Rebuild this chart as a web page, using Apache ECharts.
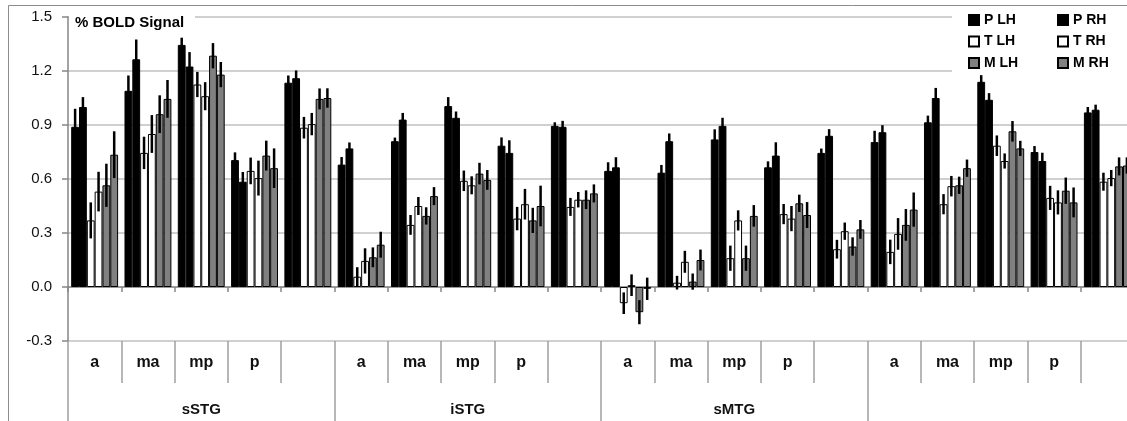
<!DOCTYPE html>
<html><head><meta charset="utf-8">
<script src="https://cdn.jsdelivr.net/npm/echarts@6/dist/echarts.min.js"></script>
<style>html,body{margin:0;padding:0;background:#fff;overflow:hidden}#c{width:1134px;height:421px}</style>
</head><body><div id="c"></div>
<script>
// ---- data ----
const groups = ['sSTG', 'iSTG', 'sMTG', ''];
const subs = ['a', 'ma', 'mp', 'p', ''];
const seriesNames = ['P LH', 'P RH', 'T LH', 'T RH', 'M LH', 'M RH'];
const yMin = -0.3, yMax = 1.5, yStep = 0.3;

const pLH  = [0.89, 1.09, 1.345, 0.705, 1.135,  0.68, 0.81, 1.005, 0.785, 0.895,  0.645, 0.635, 0.82, 0.665, 0.745,  0.805, 0.915, 1.14, 0.75, 0.97];
const pLHe = [0.10, 0.085, 0.04, 0.043, 0.04,   0.042, 0.02, 0.05, 0.046, 0.02,   0.048, 0.043, 0.056, 0.033, 0.024,  0.063, 0.037, 0.037, 0.033, 0.03];
const pRH  = [1.0, 1.265, 1.225, 0.585, 1.16,   0.77, 0.93, 0.94, 0.745, 0.89,    0.665, 0.81, 0.895, 0.73, 0.84,    0.86, 1.05, 1.04, 0.70, 0.985];
const pRHe = [0.055, 0.11, 0.08, 0.054, 0.043,  0.033, 0.037, 0.035, 0.07, 0.033, 0.056, 0.043, 0.045, 0.074, 0.037, 0.039, 0.056, 0.037, 0.046, 0.028];
const tLH  = [0.37, 0.745, 1.125, 0.645, 0.885, 0.057, 0.345, 0.59, 0.38, 0.445,  -0.09, 0.024, 0.16, 0.405, 0.21,   0.195, 0.46, 0.785, 0.495, 0.585];
const tLHe = [0.10, 0.09, 0.07, 0.074, 0.06,    0.053, 0.055, 0.057, 0.065, 0.05, 0.06, 0.038, 0.07, 0.056, 0.052,  0.068, 0.056, 0.057, 0.067, 0.05];
const tRH  = [0.53, 0.85, 1.06, 0.605, 0.905,   0.145, 0.45, 0.565, 0.46, 0.485,  0.01, 0.14, 0.37, 0.38, 0.31,      0.295, 0.56, 0.70, 0.47, 0.605];
const tRHe = [0.11, 0.105, 0.078, 0.097, 0.062, 0.07, 0.05, 0.05, 0.085, 0.043,   0.06, 0.061, 0.056, 0.07, 0.048,   0.088, 0.057, 0.042, 0.067, 0.045];
const mLH  = [0.565, 0.96, 1.285, 0.73, 1.045,  0.165, 0.395, 0.63, 0.37, 0.485,  -0.14, 0.03, 0.16, 0.465, 0.225,   0.345, 0.565, 0.865, 0.535, 0.67];
const mLHe = [0.12, 0.105, 0.07, 0.083, 0.058,  0.055, 0.048, 0.06, 0.07, 0.052,  0.067, 0.045, 0.07, 0.048, 0.051,  0.088, 0.048, 0.057, 0.073, 0.05];
const mRH  = [0.735, 1.045, 1.18, 0.66, 1.05,   0.235, 0.505, 0.595, 0.45, 0.52,  -0.01, 0.15, 0.395, 0.40, 0.32,    0.43, 0.66, 0.77, 0.47, 0.675];
const mRHe = [0.13, 0.105, 0.07, 0.11, 0.054,   0.072, 0.05, 0.055, 0.113, 0.05,  0.062, 0.058, 0.06, 0.072, 0.052,  0.095, 0.048, 0.042, 0.083, 0.045];

const values = [pLH, pRH, tLH, tRH, mLH, mRH];
const errors = [pLHe, pRHe, tLHe, tRHe, mLHe, mRHe];

// ---- styles ----
const FONT = '"Liberation Sans", Arial, sans-serif';
const fills = ['#000000', '#000000', '#ffffff', '#ffffff', '#808080', '#808080'];
const CAT_GAP = 0.12;
const AX = '#868686';
const TXT = '#111111';

const cats = [];
groups.forEach((g, gi) => subs.forEach((s, si) => cats.push(gi + '-' + si)));

const chart = echarts.init(document.getElementById('c'), null, {renderer: 'canvas'});

const series = [];
seriesNames.forEach((name, k) => {
  series.push({
    name: name, type: 'bar', xAxisIndex: 0, yAxisIndex: 0,
    data: values[k],
    barGap: '0%', barCategoryGap: (CAT_GAP * 100) + '%',
    itemStyle: {color: fills[k], borderColor: '#000', borderWidth: 1},
    emphasis: {disabled: true}, animation: false, z: 2
  });
});
seriesNames.forEach((name, k) => {
  series.push({
    type: 'custom', xAxisIndex: 0, yAxisIndex: 0, animation: false, z: 3,
    encode: {x: 0, y: [1, 2]},
    data: values[k].map((v, i) => [i, v - errors[k][i], v + errors[k][i]]),
    renderItem: function (params, api) {
      const i = api.value(0);
      const lo = api.coord([i, api.value(1)]);
      const hi = api.coord([i, api.value(2)]);
      const cw = api.size([1, 0])[0];
      const bw = cw * (1 - CAT_GAP) / 6;
      const x = lo[0] - 3 * bw + (k + 0.5) * bw;
      return {type: 'line', shape: {x1: x, y1: lo[1], x2: x, y2: hi[1]},
              style: {stroke: '#000', lineWidth: 2.5}};
    }
  });
});

const legendBase = {
  orient: 'vertical', top: 12, padding: 0, itemGap: 5.5,
  itemWidth: 10, itemHeight: 10, icon: 'rect', selectedMode: false,
  textStyle: {fontSize: 14, fontWeight: 'bold', color: '#000', fontFamily: FONT, lineHeight: 16}
};

chart.setOption({
  animation: false,
  backgroundColor: '#fff',
  grid: {left: 68, right: 0, top: 17, bottom: 80, containLabel: false},
  legend: [
    Object.assign({}, legendBase, {left: 968, data: ['P LH', 'T LH', 'M LH']}),
    Object.assign({}, legendBase, {left: 1057, data: ['P RH', 'T RH', 'M RH']})
  ],
  xAxis: [
    {type: 'category', data: cats, position: 'bottom',
     axisLine: {show: true, onZero: true, lineStyle: {color: AX, width: 1.5}},
     axisTick: {show: true, length: 5, lineStyle: {color: AX, width: 1.5}},
     axisLabel: {show: false}, splitLine: {show: false}},
    {type: 'category', data: cats, position: 'bottom',
     axisLine: {show: false, onZero: false},
     axisTick: {show: true, length: 42, lineStyle: {color: '#a0a0a0', width: 1.5}},
     axisLabel: {show: true, margin: 14, fontSize: 16, fontWeight: 'bold', color: TXT, fontFamily: FONT,
                 formatter: (v, idx) => subs[idx % subs.length]},
     splitLine: {show: false}},
    {type: 'category', data: groups, position: 'bottom',
     axisLine: {show: false, onZero: false},
     axisTick: {show: true, length: 80, lineStyle: {color: '#a0a0a0', width: 1.5}},
     axisLabel: {show: true, margin: 61, fontSize: 15, fontWeight: 'bold', color: TXT, fontFamily: FONT},
     splitLine: {show: false}}
  ],
  yAxis: {
    type: 'value', min: yMin, max: yMax, interval: yStep,
    axisLine: {show: true, lineStyle: {color: AX, width: 1.5}},
    axisTick: {show: true, length: 6, lineStyle: {color: AX, width: 1.5}},
    axisLabel: {margin: 16, fontSize: 15, color: TXT, fontFamily: FONT,
                formatter: v => v.toFixed(1)},
    splitLine: {show: true, lineStyle: {color: '#c0c0c0', width: 1.5}}
  },
  graphic: [
    {type: 'polyline', z: 0, silent: true,
     shape: {points: [[8.5, 421], [8.5, 5.5], [1134, 5.5]]},
     style: {stroke: '#8c8c8c', lineWidth: 1, fill: null}},
    {type: 'rect', z: 1, silent: true, shape: {x: 69, y: 9, width: 126, height: 20}, style: {fill: '#fff'}},
    {type: 'rect', z: 1, silent: true, shape: {x: 952, y: 9, width: 182, height: 65}, style: {fill: '#fff'}},
    {type: 'text', z: 10, silent: true, x: 75, y: 23,
     style: {text: '% BOLD Signal', font: 'bold 15px ' + FONT, fill: '#000', verticalAlign: 'middle'}}
  ],
  series: series
});
</script>
</body></html>
